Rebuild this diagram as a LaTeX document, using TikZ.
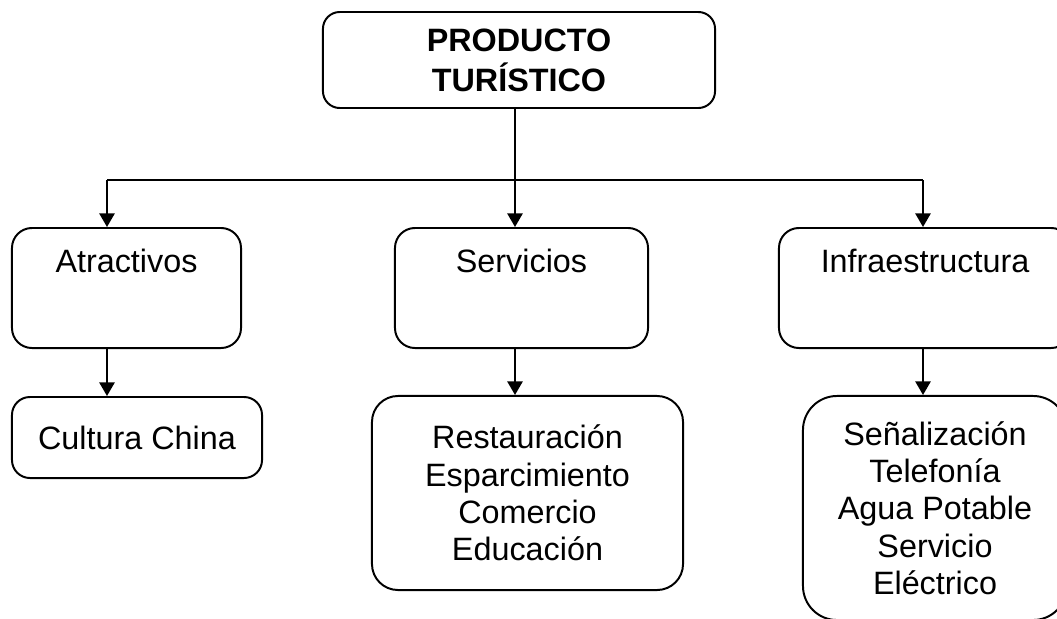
\documentclass[tikz,border=0pt]{standalone}
\usepackage{fontspec}
\setmainfont{Liberation Sans}
\usepackage{tikz}
\usetikzlibrary{arrows.meta}

\tikzset{
    box/.style = {draw, line width = 1.4pt, rounded corners = 0.5cm,
        align = center, inner sep = 0pt},
    conn/.style = {line width = 1.4pt, -{Triangle[length = 0.34cm, width = 0.38cm]}},
    lbl/.style = {anchor = base, inner sep = 0pt}
}

\begin{document}
\begin{tikzpicture}[x = 0.025cm, y = -0.025cm,
        font = \fontsize{23}{26.5}\selectfont]
    %% page
    \clip (0, 0) rectangle (1057, 618);

    %% boxes
    \node[box, minimum width = 9.8cm, minimum height = 2.4cm,
        rounded corners = 0.42cm, font = \fontsize{23}{28.5}\selectfont\bfseries]
        (top) at (519, 60) {PRODUCTO\\TURÍSTICO};

    \node[box, minimum width = 5.725cm, minimum height = 3cm] (atr) at (126.5, 288) {};
    \node[box, minimum width = 6.325cm, minimum height = 3cm] (ser) at (521.5, 288) {};
    \node[box, minimum width = 7.3cm, minimum height = 3cm] (inf) at (925, 288) {};

    \node[lbl] (atrT) at ([yshift = -1.125cm]atr.north) {Atractivos};
    \node[lbl] (serT) at ([yshift = -1.125cm]ser.north) {Servicios};
    \node[lbl] (infT) at ([yshift = -1.125cm]inf.north) {Infraestructura};

    \node[box, minimum width = 6.25cm, minimum height = 2.025cm,
        rounded corners = 0.45cm] (cul) at (137, 437.5) {Cultura China};
    \node[box, minimum width = 7.775cm, minimum height = 4.85cm,
        rounded corners = 0.65cm] (res) at (527.5, 493)
        {Restauración\\Esparcimiento\\Comercio\\Educación};
    \node[box, minimum width = 6.6cm, minimum height = 5.6cm,
        rounded corners = 0.85cm] (sen) at (935, 508)
        {Señalización\\Telefonía\\Agua Potable\\Servicio\\Eléctrico};

    %% connectors
    \coordinate (jL) at (107, 180);
    \coordinate (jC) at (515, 180);
    \coordinate (jR) at (923, 180);

    \draw[line width = 1.4pt] (top.south -| jC) -- (jC);
    \draw[line width = 1.4pt] (jL) -- (jR);
    \draw[conn] (jL) -- (jL |- atr.north);
    \draw[conn] (jC) -- (jC |- ser.north);
    \draw[conn] (jR) -- (jR |- inf.north);

    \draw[conn] (jL |- atr.south) -- (jL |- cul.north);
    \draw[conn] (jC |- ser.south) -- (jC |- res.north);
    \draw[conn] (jR |- inf.south) -- (jR |- sen.north);
\end{tikzpicture}
\end{document}
